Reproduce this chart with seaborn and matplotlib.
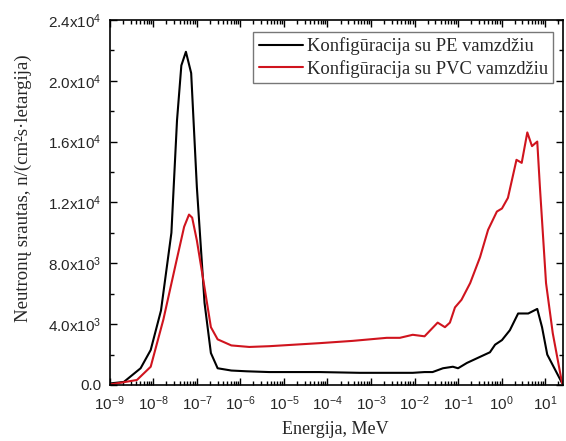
import numpy as np
import pandas as pd
import seaborn as sns
import matplotlib.pyplot as plt
from matplotlib.ticker import FixedLocator, LogLocator, NullFormatter

# data (energy in MeV, flux in n/(cm2 s lethargy))
pe_energy = [1.0e-9, 2.1e-9, 5.1e-9, 8.7e-9, 1.5e-8, 2.6e-8, 3.5e-8, 4.4e-8, 5.6e-8,
             7.4e-8, 1.0e-7, 1.5e-7, 2.1e-7, 3.0e-7, 6.2e-7, 1.4e-6, 4.6e-6, 6.6e-5,
             5.5e-4, 4.6e-3, 9.1e-3, 1.7e-2, 2.6e-2, 4.5e-2, 7.6e-2, 0.10, 0.16,
             0.32, 0.54, 0.71, 1.02, 1.55, 2.4, 4.1, 6.6, 8.5, 11.2, 24.5]
pe_flux = [100, 200, 1100, 2300, 4900, 10000, 17400, 21000, 21900,
           20500, 13000, 5400, 2100, 1100, 950, 900, 850, 850,
           800, 800, 800, 850, 850, 1100, 1200, 1100, 1450,
           1850, 2150, 2650, 2950, 3600, 4700, 4700, 5000, 3800, 2000, 130]

pvc_energy = [1.0e-9, 4.2e-9, 8.7e-9, 1.7e-8, 3.3e-8, 5.1e-8, 6.6e-8, 7.8e-8, 1.0e-7,
              1.5e-7, 2.1e-7, 3.0e-7, 6.2e-7, 1.6e-6, 4.6e-6, 6.6e-5, 3.8e-4,
              2.3e-3, 4.6e-3, 9.1e-3, 1.7e-2, 3.4e-2, 5.0e-2, 6.5e-2, 8.5e-2,
              0.12, 0.19, 0.32, 0.49, 0.78, 1.02, 1.4, 2.2, 2.9, 3.9, 5.0, 6.6,
              7.6, 10.5, 15.0, 24.5]
pvc_flux = [30, 330, 1200, 4300, 8000, 10400, 11200, 11000, 9500,
            6400, 3800, 3000, 2600, 2500, 2550, 2750, 2900,
            3100, 3100, 3300, 3200, 4100, 3800, 4100, 5100,
            5600, 6700, 8400, 10200, 11400, 11600, 12300, 14800, 14600, 16600, 15700, 16000,
            13000, 6700, 3400, 130]

labels = ['Konfigūracija su PE vamzdžiu', 'Konfigūracija su PVC vamzdžiu']
y_ticks = [0, 4000, 8000, 12000, 16000, 20000, 24000]
y_ticklabels = ['0.0', '4.0x10$^{3}$', '8.0x10$^{3}$', '1.2x10$^{4}$',
                '1.6x10$^{4}$', '2.0x10$^{4}$', '2.4x10$^{4}$']
x_decades = list(range(-9, 2))

df = pd.concat([
    pd.DataFrame({'E': pe_energy, 'flux': pe_flux, 'cfg': labels[0]}),
    pd.DataFrame({'E': pvc_energy, 'flux': pvc_flux, 'cfg': labels[1]}),
])

sns.set_style('ticks')
plt.rcParams['font.family'] = ['Liberation Sans', 'DejaVu Sans']
plt.rcParams['mathtext.fontset'] = 'custom'
plt.rcParams['mathtext.rm'] = 'Liberation Sans'
plt.rcParams['mathtext.it'] = 'Liberation Sans'

fig = plt.figure(figsize=(5.66, 4.41), dpi=100)
ax = fig.add_axes([0.194, 0.127, 0.801, 0.828])
sns.lineplot(data=df, x='E', y='flux', hue='cfg', palette=['black', '#d0141e'],
             linewidth=1.5, sort=False, ax=ax)

ax.set_xscale('log')
ax.set_xlim(1e-9, 26)
ax.set_ylim(0, 24000)

ax.xaxis.set_major_locator(FixedLocator([10.0 ** d for d in x_decades]))
ax.set_xticklabels(['10$^{%d}$' % d for d in x_decades])
ax.xaxis.set_minor_locator(LogLocator(base=10, subs=np.arange(2, 10), numticks=20))
ax.xaxis.set_minor_formatter(NullFormatter())
ax.set_yticks(y_ticks)
ax.set_yticklabels(y_ticklabels)
ax.yaxis.set_minor_locator(FixedLocator(np.arange(2000, 24000, 4000)))

ax.tick_params(which='both', direction='in', top=True, right=True, labelsize=11,
               width=1, color='black')
ax.tick_params(which='major', length=5)
ax.tick_params(which='minor', length=3)
ax.tick_params(axis='x', which='major', pad=7)
ax.tick_params(axis='y', which='major', pad=6)
for s in ax.spines.values():
    s.set_linewidth(1.2)
    s.set_color('black')

ax.set_xlabel('Energija, MeV', family='Liberation Serif', fontsize=13)
ax.set_ylabel('Neutronų srautas, n/(cm²s·letargija)', family='Liberation Serif', fontsize=13.5)
ax.xaxis.set_label_coords(0.497, -0.098)
ax.yaxis.set_label_coords(-0.172, 0.54)

leg = ax.legend(loc='upper right', bbox_to_anchor=(0.978, 0.967), frameon=True, fancybox=False,
                edgecolor='#555555', handlelength=2.4, handletextpad=0.2, borderpad=0.3,
                labelspacing=0.25, borderaxespad=0.0,
                prop={'family': 'Liberation Serif', 'size': 13.3}, title=None)
leg.get_frame().set_linewidth(1.0)

plt.savefig('out.png', dpi=100)
